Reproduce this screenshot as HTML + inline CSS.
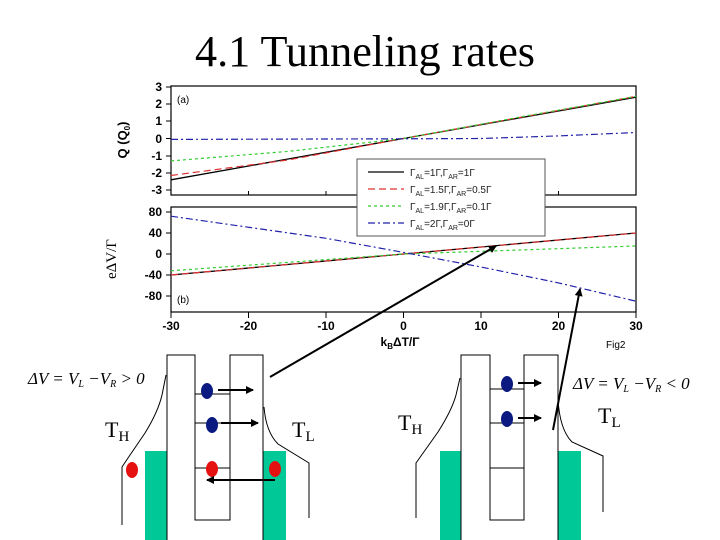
<!DOCTYPE html>
<html><head><meta charset="utf-8"><style>
html,body{margin:0;padding:0;background:#fff}
svg{display:block}
</style></head><body>
<svg width="720" height="540" viewBox="0 0 720 540" xmlns="http://www.w3.org/2000/svg">
<defs>
<marker id="ah" markerWidth="8" markerHeight="8" refX="7" refY="4" orient="auto" markerUnits="userSpaceOnUse"><path d="M0,0 L8,4 L0,8 z" fill="#000"/></marker>
</defs>
<rect width="720" height="540" fill="#fff"/>
<text x="365" y="66" font-family="Liberation Serif, serif" font-size="44" text-anchor="middle" textLength="340" lengthAdjust="spacingAndGlyphs">4.1 Tunneling rates</text>

<g font-family="Liberation Sans, sans-serif" font-weight="bold" font-size="12">
<!-- panel a -->
<rect x="171" y="86" width="465" height="109" fill="none" stroke="#000" stroke-width="1.2"/>
<rect x="171" y="207" width="465" height="105" fill="none" stroke="#000" stroke-width="1.2"/>
<g stroke="#000" stroke-width="1">
<line x1="166" y1="87" x2="171" y2="87"/><line x1="166" y1="104" x2="171" y2="104"/><line x1="166" y1="121" x2="171" y2="121"/><line x1="166" y1="138.5" x2="171" y2="138.5"/><line x1="166" y1="156" x2="171" y2="156"/><line x1="166" y1="173" x2="171" y2="173"/><line x1="166" y1="190" x2="171" y2="190"/>
<line x1="166" y1="212" x2="171" y2="212"/><line x1="166" y1="233" x2="171" y2="233"/><line x1="166" y1="254" x2="171" y2="254"/><line x1="166" y1="275" x2="171" y2="275"/><line x1="166" y1="296" x2="171" y2="296"/>
<line x1="171" y1="312" x2="171" y2="318"/><line x1="248.5" y1="312" x2="248.5" y2="318"/><line x1="326" y1="312" x2="326" y2="318"/><line x1="403.5" y1="312" x2="403.5" y2="318"/><line x1="481" y1="312" x2="481" y2="318"/><line x1="558.5" y1="312" x2="558.5" y2="318"/><line x1="636" y1="312" x2="636" y2="318"/>
<line x1="248.5" y1="195" x2="248.5" y2="191"/><line x1="326" y1="195" x2="326" y2="191"/><line x1="481" y1="195" x2="481" y2="191"/><line x1="558.5" y1="195" x2="558.5" y2="191"/>
</g>
<g text-anchor="end">
<text x="162" y="91">3</text><text x="162" y="108">2</text><text x="162" y="125">1</text><text x="162" y="143">0</text><text x="162" y="160">-1</text><text x="162" y="177">-2</text><text x="162" y="194">-3</text>
<text x="162" y="216">80</text><text x="162" y="237">40</text><text x="162" y="258">0</text><text x="162" y="279">-40</text><text x="162" y="300">-80</text>
</g>
<g text-anchor="middle">
<text x="171" y="330">-30</text><text x="248.5" y="330">-20</text><text x="326" y="330">-10</text><text x="403.5" y="330">0</text><text x="481" y="330">10</text><text x="558.5" y="330">20</text><text x="636" y="330">30</text>
<text x="400" y="346">k<tspan font-size="8" dy="3">B</tspan><tspan dy="-3">ΔT/Γ</tspan></text>
</g>
<text x="127" y="140" text-anchor="middle" transform="rotate(-90 127 140)" font-size="13">Q (Q<tspan font-size="8" dy="3">0</tspan><tspan dy="-3">)</tspan></text>
<text x="116" y="259" text-anchor="middle" transform="rotate(-90 116 259)" font-family="Liberation Serif, serif" font-size="15" font-weight="normal">eΔV/Γ</text>
<text x="177" y="103" font-weight="normal" font-size="10">(a)</text>
<text x="177" y="303" font-weight="normal" font-size="10">(b)</text>
<text x="606" y="348" font-weight="normal" font-size="10">Fig2</text>
</g>

<!-- curves a -->
<polyline points="171,179.8 288,159 403.5,138.5 636,97.2" fill="none" stroke="#000" stroke-width="1.3"/>
<polyline points="171,175.5 288,160 403.5,138.5 636,96.4" fill="none" stroke="#d33" stroke-width="1.2" stroke-dasharray="7,4"/>
<polyline points="171,160.9 288,151.4 403.5,138.5 520,117 636,96.4" fill="none" stroke="#3c3" stroke-width="1.2" stroke-dasharray="3,3"/>
<polyline points="171,139.4 403.5,138.8 481,138.5 558.5,135.9 636,132.5" fill="none" stroke="#22a" stroke-width="1.2" stroke-dasharray="7,3,2,3"/>
<!-- curves b -->
<polyline points="171,275 636,233" fill="none" stroke="#000" stroke-width="1.3"/>
<polyline points="171,275 636,233" fill="none" stroke="#d33" stroke-width="1.2" stroke-dasharray="7,4"/>
<polyline points="171,270.8 403.5,254 636,246" fill="none" stroke="#3c3" stroke-width="1.2" stroke-dasharray="3,3"/>
<polyline points="171,216.2 326,238.3 403.5,252.4 481,267 558.5,282.9 636,301.2" fill="none" stroke="#22a" stroke-width="1.2" stroke-dasharray="7,3,2,3"/>

<!-- legend -->
<rect x="357" y="159" width="188" height="77" fill="#fff" stroke="#555" stroke-width="1"/>
<line x1="368" y1="172" x2="404" y2="172" stroke="#000" stroke-width="1.3"/>
<line x1="368" y1="189" x2="404" y2="189" stroke="#d33" stroke-width="1.2" stroke-dasharray="7,4"/>
<line x1="368" y1="206" x2="404" y2="206" stroke="#3c3" stroke-width="1.2" stroke-dasharray="3,3"/>
<line x1="368" y1="223" x2="404" y2="223" stroke="#22a" stroke-width="1.2" stroke-dasharray="7,3,2,3"/>
<g font-family="Liberation Sans, sans-serif" font-size="10" fill="#222">
<text x="410" y="176">Γ<tspan font-size="7" dy="3">AL</tspan><tspan dy="-3">=1Γ,Γ</tspan><tspan font-size="7" dy="3">AR</tspan><tspan dy="-3">=1Γ</tspan></text>
<text x="410" y="193">Γ<tspan font-size="7" dy="3">AL</tspan><tspan dy="-3">=1.5Γ,Γ</tspan><tspan font-size="7" dy="3">AR</tspan><tspan dy="-3">=0.5Γ</tspan></text>
<text x="410" y="210">Γ<tspan font-size="7" dy="3">AL</tspan><tspan dy="-3">=1.9Γ,Γ</tspan><tspan font-size="7" dy="3">AR</tspan><tspan dy="-3">=0.1Γ</tspan></text>
<text x="410" y="227">Γ<tspan font-size="7" dy="3">AL</tspan><tspan dy="-3">=2Γ,Γ</tspan><tspan font-size="7" dy="3">AR</tspan><tspan dy="-3">=0Γ</tspan></text>
</g>

<!-- left diagram -->
<rect x="145" y="451" width="22" height="89" fill="#00c896"/>
<rect x="263" y="451" width="23" height="89" fill="#00c896"/>
<polyline points="167,540 167,355 195,355 195,520 230,520 230,355 263,355 263,540" fill="none" stroke="#000" stroke-width="1"/>
<path d="M122,525 L122,467 L128,458 L145,433 Q158,412 162,395 L166,375" fill="none" stroke="#000" stroke-width="1"/>
<path d="M264,407 Q266,432 278,444 L309,463 L309,518" fill="none" stroke="#000" stroke-width="1"/>
<line x1="195" y1="394" x2="230" y2="394" stroke="#000"/>
<line x1="195" y1="423" x2="230" y2="423" stroke="#000"/>
<line x1="195" y1="468" x2="230" y2="468" stroke="#000"/>
<ellipse cx="207" cy="391" rx="6" ry="8" fill="#0a1a80"/>
<ellipse cx="212" cy="425" rx="6" ry="8" fill="#0a1a80"/>
<ellipse cx="212" cy="469" rx="6" ry="8" fill="#e51010"/>
<ellipse cx="132" cy="470" rx="6" ry="8" fill="#e51010"/>
<ellipse cx="275" cy="469" rx="6" ry="8" fill="#e51010"/>
<line x1="218" y1="390" x2="253" y2="390" stroke="#000" stroke-width="2" marker-end="url(#ah)"/>
<line x1="221" y1="423" x2="258" y2="423" stroke="#000" stroke-width="2" marker-end="url(#ah)"/>
<line x1="275" y1="480" x2="207" y2="480" stroke="#000" stroke-width="2" marker-end="url(#ah)"/>
<g font-family="Liberation Serif, serif" font-style="italic" font-size="17">
<text x="28" y="384">ΔV = V<tspan font-size="10" dy="3">L</tspan><tspan dy="-3"> −V</tspan><tspan font-size="10" dy="3">R</tspan><tspan dy="-3"> &gt; 0</tspan></text>
<text x="573" y="389">ΔV = V<tspan font-size="10" dy="3">L</tspan><tspan dy="-3"> −V</tspan><tspan font-size="10" dy="3">R</tspan><tspan dy="-3"> &lt; 0</tspan></text>
</g>
<g font-family="Liberation Serif, serif" font-size="22">
<text x="105" y="437">T<tspan font-size="15" dy="4">H</tspan></text>
<text x="292" y="437">T<tspan font-size="15" dy="4">L</tspan></text>
<text x="398" y="430">T<tspan font-size="15" dy="4">H</tspan></text>
<text x="598" y="423">T<tspan font-size="15" dy="4">L</tspan></text>
</g>

<!-- right diagram -->
<rect x="440" y="451" width="21" height="89" fill="#00c896"/>
<rect x="558" y="451" width="23" height="89" fill="#00c896"/>
<polyline points="461,540 461,355 490,355 490,520 524,520 524,355 558,355 558,540" fill="none" stroke="#000" stroke-width="1"/>
<path d="M416,518 L416,463 L438,432 Q452,410 456,395 L460,378" fill="none" stroke="#000" stroke-width="1"/>
<path d="M558,400 Q560,430 572,442 L603,456 L603,512" fill="none" stroke="#000" stroke-width="1"/>
<line x1="490" y1="389" x2="524" y2="389" stroke="#000"/>
<line x1="490" y1="423" x2="524" y2="423" stroke="#000"/>
<line x1="490" y1="468" x2="524" y2="468" stroke="#000"/>
<ellipse cx="507" cy="384" rx="6" ry="8" fill="#0a1a80"/>
<ellipse cx="507" cy="419" rx="6" ry="8" fill="#0a1a80"/>
<line x1="518" y1="383" x2="541" y2="383" stroke="#000" stroke-width="2" marker-end="url(#ah)"/>
<line x1="518" y1="418" x2="541" y2="418" stroke="#000" stroke-width="2" marker-end="url(#ah)"/>

<!-- long arrows -->
<line x1="270" y1="377" x2="496" y2="246" stroke="#000" stroke-width="2" marker-end="url(#ah)"/>
<line x1="553" y1="430" x2="580" y2="289" stroke="#000" stroke-width="2" marker-end="url(#ah)"/>
</svg>
</body></html>
